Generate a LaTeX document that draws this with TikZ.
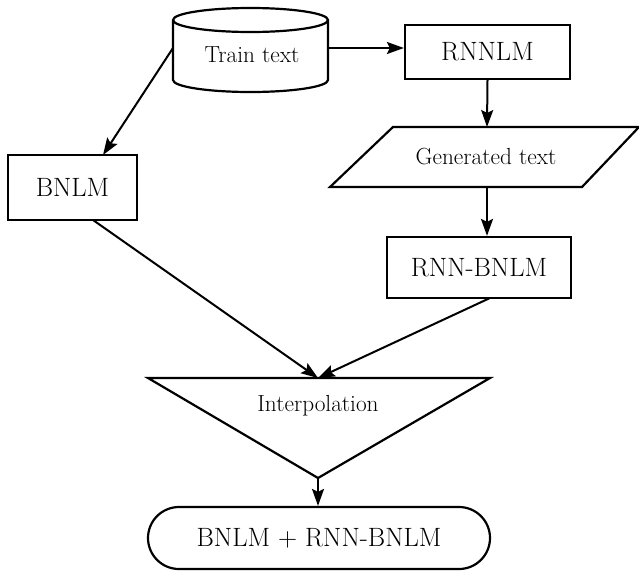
\documentclass[tikz,border=0pt]{standalone}
\usetikzlibrary{arrows.meta}
\begin{document}
\begin{tikzpicture}[x=1pt,y=-1pt,
  shp/.style={draw=black,line width=2.2pt,fill=white},
  lbl/.style={font=\fontsize{26.5}{30}\selectfont,inner sep=0pt},
  slbl/.style={font=\fontsize{23.3}{27}\selectfont,inner sep=0pt},
  arr/.style={line width=2pt,-{Stealth[length=17pt,width=12pt,inset=3pt]}}]
\useasboundingbox (0,0) rectangle (639,576);
% cylinder
\draw[shp] (173,20) -- (173,80) arc[start angle=180,end angle=360,x radius=77.5,y radius=-12] -- (328,20)
  arc[start angle=0,end angle=180,x radius=77.5,y radius=-12] -- cycle;
\draw[shp,fill=none] (173,20) arc[start angle=180,end angle=360,x radius=77.5,y radius=-12];
\node[slbl] (train) at (252,55) {Train text};
\coordinate (cylL) at (173,48);
\coordinate (cylR) at (328,48);
% RNNLM
\node[shp,lbl,minimum width=165pt,minimum height=54pt] (rnnlm) at (487.5,52) {RNNLM};
% BNLM
\node[shp,lbl,minimum width=129pt,minimum height=65pt] (bnlm) at (72.5,187.5) {BNLM};
% generated text parallelogram
\draw[shp] (393,127) -- (639,127) -- (582,187) -- (330,187) -- cycle;
\node[slbl] (gen) at (486,157) {Generated text};
\coordinate (genT) at (487,127);
\coordinate (genB) at (487,187);
% RNN-BNLM
\node[shp,lbl,minimum width=184pt,minimum height=61pt] (rnnb) at (479,267.5) {RNN-BNLM};
% triangle
\draw[shp] (148,378) -- (490,378) -- (318,478) -- cycle;
\node[slbl] (interp) at (318,406) {Interpolation};
\coordinate (triT) at (318,378);
\coordinate (triB) at (318,478);
% terminal
\node[shp,lbl,minimum width=342pt,minimum height=62pt,rounded corners=31pt] (final) at (319,538) {BNLM + RNN-BNLM};
% arrows
\draw[arr] (cylR) -- (rnnlm.west|-cylR);
\draw[arr] (cylL) -- (103,155);
\draw[arr] (rnnlm.south) -- (genT);
\draw[arr] (genB) -- (rnnb.north-|genB);
\draw[arr] (93,220) -- (triT);
\draw[arr] (490,298) -- (triT);
\draw[arr] (triB) -- (final.north-|triB);
\end{tikzpicture}
\end{document}
